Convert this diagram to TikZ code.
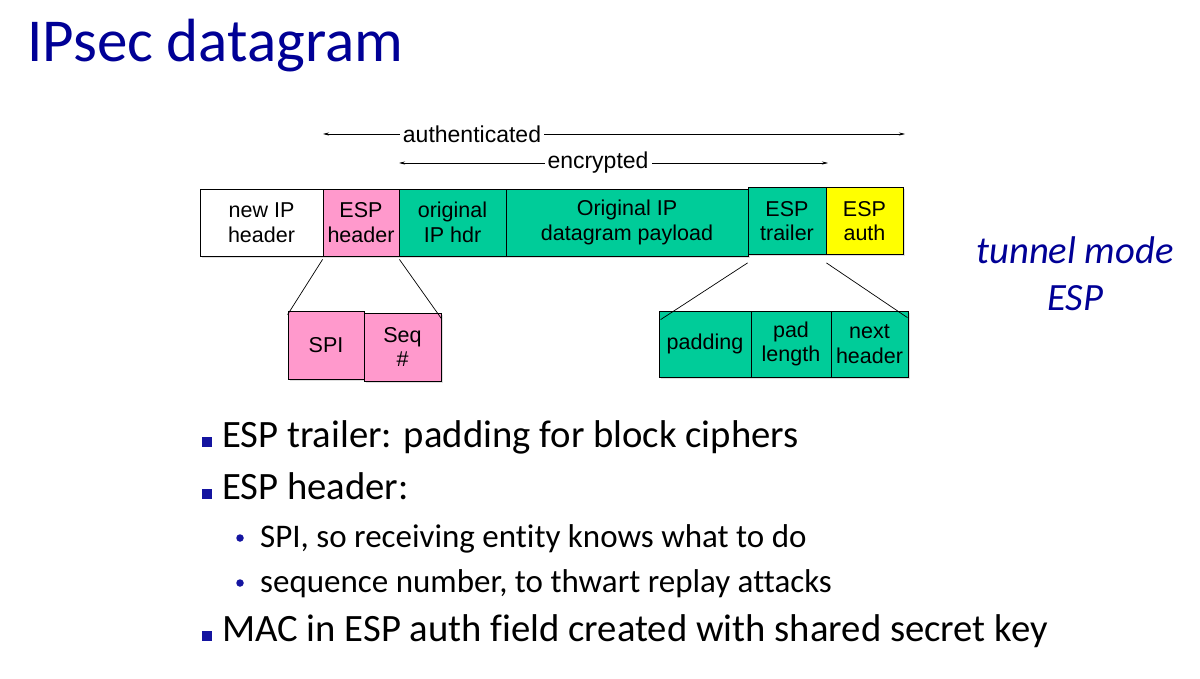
\documentclass[tikz,border=0pt]{standalone}
\usepackage{fontspec}
\setmainfont{Carlito}[Ligatures=NoCommon]
\newfontfamily\arialf{Liberation Sans}
\usetikzlibrary{arrows.meta,shadows}
\definecolor{titleblue}{RGB}{0,0,150}
\definecolor{espgreen}{RGB}{0,204,153}
\definecolor{esppink}{RGB}{255,153,204}
\definecolor{espyellow}{RGB}{255,255,0}
\definecolor{bulletblue}{RGB}{20,20,160}
\tikzset{
  fld/.style={draw=black, line width=0.8pt, minimum height=67pt, inner sep=0pt, align=center,
     font=\arialf\fontsize{21.5}{24.5}\selectfont, drop shadow={shadow xshift=2pt, shadow yshift=-2pt, opacity=0.25}},
  sub/.style={fld, minimum height=67pt},
  lbl/.style={font=\arialf\fontsize{23}{26}\selectfont, inner sep=3pt, fill=white},
  dimarrow/.style={{Stealth[length=6pt,width=3pt]}-{Stealth[length=6pt,width=3pt]}, line width=0.6pt},
  zoomline/.style={line width=0.7pt},
  bigtext/.style={anchor=base west, font=\fontsize{38.7}{44}\selectfont, inner sep=0pt},
  smalltext/.style={anchor=base west, font=\fontsize{33}{38}\selectfont, inner sep=0pt},
  sqbullet/.style={fill=bulletblue, minimum size=10pt, inner sep=0pt, anchor=south west},
  dotbullet/.style={fill=bulletblue, circle, minimum size=7.5pt, inner sep=0pt},
  tunneltext/.style={anchor=base, text=titleblue, font=\fontsize{38.6}{40}\selectfont\itshape, inner sep=0pt}
}
\begin{document}
\begin{tikzpicture}[x=1pt,y=-1pt]
\useasboundingbox[fill=white] (0,0) rectangle (1200,679);
% title
\node[anchor=base west, inner sep=0pt, text=titleblue, font=\fontsize{61}{66}\selectfont] (title) at (27,62) {IPsec datagram};
% top row
\node[fld, fill=white, minimum width=123pt] (newip) at (261.5,222.5) {new IP\\header};
\node[fld, fill=esppink, minimum width=76pt] (esph) at (361,222.5) {ESP\\header};
\node[fld, fill=espgreen, minimum width=107pt] (origh) at (452.5,222.5) {original\\IP hdr};
\node[fld, fill=espgreen, minimum width=242pt] (payload) at (627,222.5) {Original IP\\datagram payload};
\node[fld, fill=espgreen, minimum width=78pt] (trailer) at (787,221) {ESP\\trailer};
\node[fld, fill=espyellow, minimum width=77pt] (auth) at (864.5,221) {ESP\\auth};
% arrows
\coordinate (aL) at (323,134);
\coordinate (aR) at (905,134);
\draw[dimarrow] (aL) -- (aR);
\node[lbl] (authlbl) at (472,134) {authenticated};
\coordinate (eL) at (399,163);
\coordinate (eR) at (828,163);
\draw[dimarrow] (eL) -- (eR);
\node[lbl] (enclbl) at (598,163) {encrypted};
% lower left
\node[sub, fill=esppink, minimum width=76pt, minimum height=68pt] (spi) at (326,345) {SPI};
\node[sub, fill=esppink, minimum width=77pt, minimum height=68pt] (seq) at (402.5,347) {Seq\\\#};
\draw[zoomline] ([yshift=-3pt]esph.south west) -- ([yshift=-4pt]spi.north west);
\draw[zoomline] ([yshift=-3pt]esph.south east) -- ([yshift=-6pt]seq.north east);
% lower right
\node[sub, fill=espgreen, minimum width=92pt, minimum height=66pt] (padding) at (705,344) {padding};
\node[sub, fill=espgreen, minimum width=80pt, minimum height=66pt] (padlen) at (791,344) {pad\\length};
\node[sub, fill=espgreen, minimum width=77pt, minimum height=66pt] (nexth) at (869.5,344) {next\\header};
\draw[zoomline] ([yshift=-8pt]trailer.south west) -- ([xshift=2pt,yshift=-9pt]padding.north west);
\draw[zoomline] ([yshift=-8pt]trailer.south east) -- ([xshift=-1pt,yshift=-7pt]nexth.north east);
% tunnel mode
\node[tunneltext] (tunnel1) at (1075,264) {tunnel mode};
\node[tunneltext] (tunnel2) at (1075,310) {ESP};
% bullets
\node[sqbullet] (b1) at (201.5,447) {};
\node[bigtext] (t1) at (222,447) {ESP trailer: padding for block ciphers};
\node[sqbullet] (b2) at (201.5,499) {};
\node[bigtext] (t2) at (222,499) {ESP header:};
\node[dotbullet] (d1) at (240,538) {};
\node[smalltext] (s1) at (260,547) {SPI, so receiving entity knows what to do};
\node[dotbullet] (d2) at (240,583) {};
\node[smalltext] (s2) at (260,592) {sequence number, to thwart replay attacks};
\node[sqbullet] (b3) at (201.5,641) {};
\node[bigtext] (t3) at (222,641) {MAC in ESP auth field created with shared secret key};
\end{tikzpicture}
\end{document}
